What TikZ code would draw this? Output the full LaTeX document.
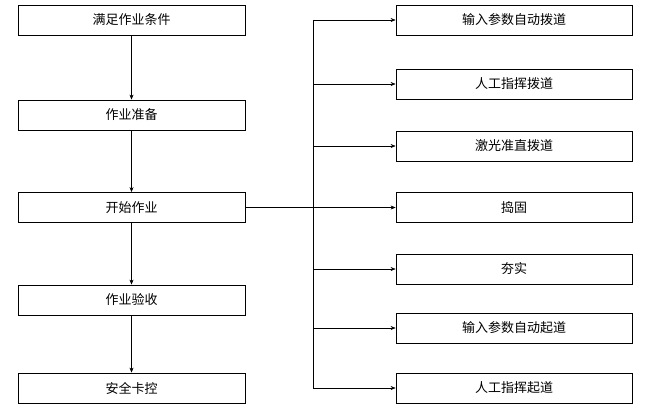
\documentclass[tikz,border=0pt]{standalone}
\usepackage{fontspec}
\setmainfont{Noto Sans CJK SC}
\usetikzlibrary{arrows.meta}
\begin{document}
\begin{tikzpicture}[x=1pt,y=-1pt,
  box/.style={draw,line width=0.8pt,minimum height=30pt,inner sep=0pt,font=\fontsize{13}{13}\selectfont},
  lbox/.style={box,minimum width=227pt},
  rbox/.style={box,minimum width=236pt},
  arr/.style={-{Stealth[length=5pt,width=4pt]},line width=0.5pt}]
\useasboundingbox (0,0) rectangle (660,416);
\node[lbox] (l1) at (131.5,20) {满足作业条件};
\node[lbox] (l2) at (131.5,115) {作业准备};
\node[lbox] (l3) at (131.5,207.5) {开始作业};
\node[lbox] (l4) at (131.5,300) {作业验收};
\node[lbox] (l5) at (131.5,388) {安全卡控};
\node[rbox] (r1) at (514,20) {输入参数自动拨道};
\node[rbox] (r2) at (514,84) {人工指挥拨道};
\node[rbox] (r3) at (514,146) {激光准直拨道};
\node[rbox] (r4) at (514,207.5) {捣固};
\node[rbox] (r5) at (514,269) {夯实};
\node[rbox] (r6) at (514,328) {输入参数自动起道};
\node[rbox] (r7) at (514,388) {人工指挥起道};
\draw[arr] (l1) -- (l2);
\draw[arr] (l2) -- (l3);
\draw[arr] (l3) -- (l4);
\draw[arr] (l4) -- (l5);
\coordinate (top) at (313,20);
\coordinate (bot) at (313,388);
\draw[line width=0.5pt] (top) -- (bot);
\draw[arr] (l3.east) -- (r4.west);
\foreach \r in {r1,r2,r3,r5,r6,r7}{
  \draw[arr] (top |- \r.west) -- (\r.west);
}
\end{tikzpicture}
\end{document}
